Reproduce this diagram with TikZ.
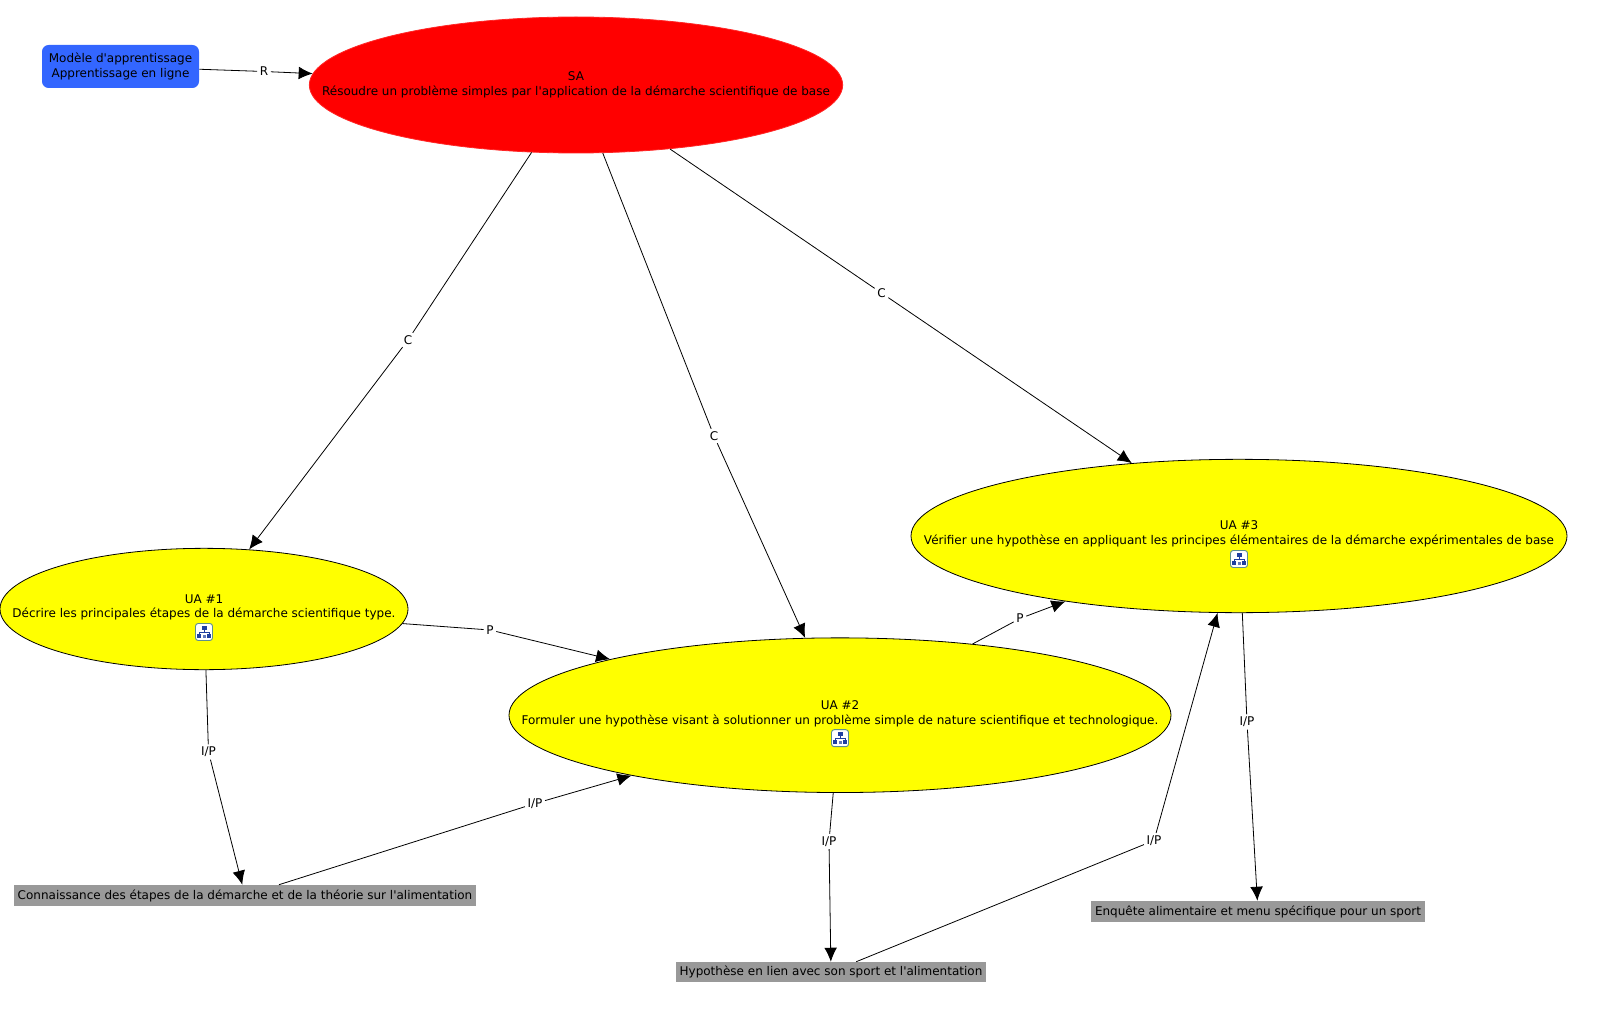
\documentclass[tikz,border=0pt]{standalone}
\usepackage{fontspec}
\setmainfont{DejaVu Sans}
\usetikzlibrary{shapes.geometric,arrows.meta,calc}
\definecolor{bluefill}{HTML}{3366FF}
\definecolor{greyfill}{HTML}{999999}
\definecolor{iconedge}{HTML}{5F8F8F}
\definecolor{iconblue}{HTML}{1F3FA0}
\definecolor{ovalyellow}{HTML}{FFFF00}
\definecolor{ovalred}{HTML}{FF0000}
\tikzset{
  x=0.75pt,y=-0.75pt,
  every node/.style={font=\fontsize{9pt}{10.95pt}\selectfont,text=black},
  oval/.style={shape=ellipse,inner sep=0pt,draw=black,line width=0.6pt,fill=ovalyellow},
  redoval/.style={oval,draw=ovalred!85!white,fill=ovalred},
  caption/.style={align=center,inner sep=0pt},
  bluebox/.style={rounded corners=5pt,fill=bluefill,draw=none,inner sep=0pt,align=center,minimum width=117.75pt,minimum height=32.25pt},
  greybox/.style={fill=greyfill,draw=none,inner sep=0pt},
  lab/.style={inner sep=1.8pt},
  link/.style={draw=black,line width=0.6pt},
  arrowlink/.style={link,-{Latex[length=10.5pt,width=9.5pt]}},
  icon/.pic={
    \draw[draw=iconedge,fill=white,line width=0.7pt,rounded corners=2pt] (-8.5,-8.5) rectangle (8.5,8.5);
    \draw[draw=iconblue,line width=0.6pt] (0,-3) -- (0,0) (-5,3) -- (-5,0) -- (5,0) -- (5,3);
    \fill[iconblue] (-2.5,-6.5) rectangle (2.5,-2.5);
    \fill[iconblue] (-7,2) rectangle (-3,6);
    \fill[iconblue] (3,2) rectangle (7,6);
    \fill[iconblue!70] (-1.5,2.5) rectangle (1.5,6);
  }
}
\begin{document}
\begin{tikzpicture}
\useasboundingbox (0,0) rectangle (1611,1027);
% main shapes
\node[redoval,minimum width=400pt,minimum height=102pt] (sa) at (576,85) {};
\node[oval,minimum width=306pt,minimum height=91pt] (ua1) at (204,609) {};
\node[oval,minimum width=496.5pt,minimum height=116pt] (ua2) at (840,715.2) {};
\node[oval,minimum width=492pt,minimum height=115pt] (ua3) at (1239,536) {};
% captions
\node[caption] (sat) at (576,84.5) {SA\\Résoudre un problème simples par l\textquotesingle application de la démarche scientifique de base};
\node[caption] (ua1t) at (204,607.5) {UA \#1\\Décrire les principales étapes de la démarche scientifique type.};
\node[caption] (ua2t) at (840,713.5) {UA \#2\\Formuler une hypothèse visant à solutionner un problème simple de nature scientifique et technologique.};
\node[caption] (ua3t) at (1239,534) {UA \#3\\Vérifier une hypothèse en appliquant les principes élémentaires de la démarche expérimentales de base};
\pic at ($(ua1)+(0,23)$) {icon};
\pic at ($(ua2)+(0,23)$) {icon};
\pic at ($(ua3)+(0,23)$) {icon};
% boxes
\node[bluebox] (model) at (120.5,66.5) {Modèle d\textquotesingle apprentissage\\Apprentissage en ligne};
\node[greybox,minimum width=346.5pt,minimum height=15.75pt] (g1) at (245,895.5) {Connaissance des étapes de la démarche et de la théorie sur l\textquotesingle alimentation};
\node[greybox,minimum width=232.5pt,minimum height=15pt] (g2) at (831,972) {Hypothèse en lien avec son sport et l\textquotesingle alimentation};
\node[greybox,minimum width=250.5pt,minimum height=15.75pt] (g3) at (1258,911.5) {Enquête alimentaire et menu spécifique pour un sport};
% labels
\node[lab] (lr) at (264,71.5) {R};
\node[lab] (lc1) at (408,340) {C};
\node[lab] (lc2) at (714,436) {C};
\node[lab] (lc3) at (881.5,293) {C};
\node[lab] (lp1) at (490,630) {P};
\node[lab] (lp2) at (1020,618.5) {P};
\node[lab] (li1) at (208.5,752) {I/P};
\node[lab] (li2) at (535,803.5) {I/P};
\node[lab] (li3) at (829,841.5) {I/P};
\node[lab] (li4) at (1154,840.5) {I/P};
\node[lab] (li5) at (1247,722) {I/P};
% connectors
\draw[link] (model) -- (lr); \draw[arrowlink] (lr) -- (sa);
\draw[link] (sa) -- (lc1); \draw[arrowlink] (lc1) -- (ua1);
\draw[link] (sa) -- (lc2); \draw[arrowlink] (lc2) -- (ua2);
\draw[link] (sa) -- (lc3); \draw[arrowlink] (lc3) -- (ua3);
\draw[link] (ua1) -- (lp1); \draw[arrowlink] (lp1) -- (ua2);
\draw[link] (ua2) -- (lp2); \draw[arrowlink] (lp2) -- (ua3);
\draw[link] (ua1) -- (li1); \draw[arrowlink] (li1) -- (g1);
\draw[link] (g1) -- (li2); \draw[arrowlink] (li2) -- (ua2);
\draw[link] (ua2) -- (li3); \draw[arrowlink] (li3) -- (g2);
\draw[link] (g2) -- (li4); \draw[arrowlink] (li4) -- (ua3);
\draw[link] (ua3) -- (li5); \draw[arrowlink] (li5) -- (g3);
\end{tikzpicture}
\end{document}
